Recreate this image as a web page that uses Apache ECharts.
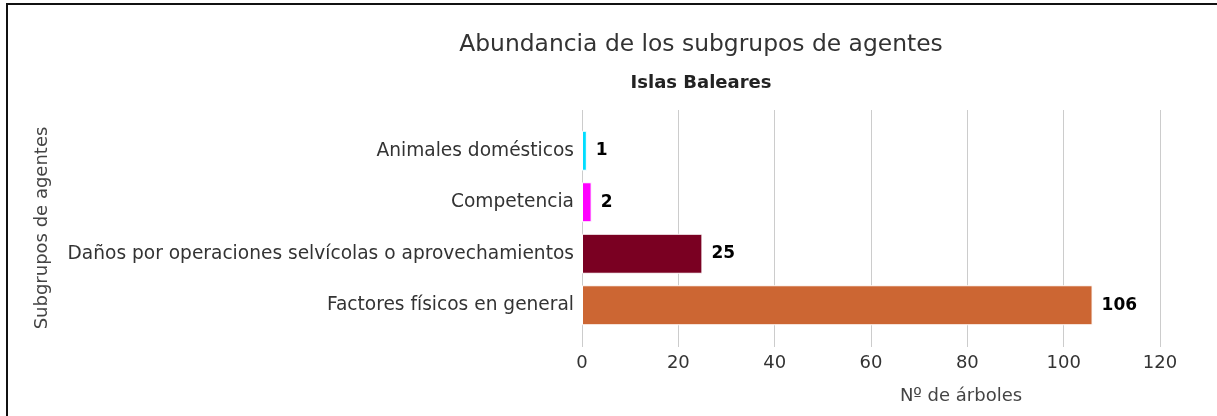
<!DOCTYPE html>
<html>
<head>
<meta charset="utf-8">
<script src="https://cdn.jsdelivr.net/npm/echarts@6/dist/echarts.min.js"></script>
<style>
  html, body { margin: 0; padding: 0; background: #fff; }
  #chart { width: 1217px; height: 416px; }
</style>
</head>
<body>
<div id="chart"></div>
<script>
// datos del gráfico
var categorias = [
  "Animales domésticos",
  "Competencia",
  "Daños por operaciones selvícolas o aprovechamientos",
  "Factores físicos en general"
];
var valores = [1, 2, 25, 106];
var colores = ["#00DDFF", "#FF00FF", "#7A0022", "#CC6633"];

var fuente = "DejaVu Sans";

var myChart = echarts.init(document.getElementById("chart"));
myChart.setOption({
  backgroundColor: "#fff",
  textStyle: { fontFamily: fuente },
  title: [
    {
      text: "Abundancia de los subgrupos de agentes",
      left: 696,
      top: 28,
      textAlign: "center",
      textStyle: { fontFamily: fuente, fontSize: 23.4, fontWeight: "normal", color: "#333" }
    },
    {
      text: "Islas Baleares",
      left: 696,
      top: 69,
      textAlign: "center",
      textStyle: { fontFamily: fuente, fontSize: 18, fontWeight: "bold", color: "#222" }
    }
  ],
  graphic: [
    // borde superior e izquierdo
    { type: "line", shape: { x1: 6, y1: 4, x2: 1217, y2: 4 }, style: { stroke: "#111", lineWidth: 2 } },
    { type: "line", shape: { x1: 7, y1: 4, x2: 7, y2: 416 }, style: { stroke: "#111", lineWidth: 2 } }
  ],
  grid: [
    { left: 582, right: 57, top: 110, bottom: 69 }, // rejilla
    { left: 582, right: 57, top: 125, bottom: 85 }  // barras
  ],
  xAxis: [
    {
      gridIndex: 0,
      type: "value",
      min: 0,
      max: 120,
      interval: 20,
      axisLine: { show: false },
      axisTick: { show: false },
      splitLine: { lineStyle: { color: "#cccccc", width: 1 } },
      axisLabel: { fontFamily: fuente, fontSize: 18, color: "#333", margin: 7 },
      name: "Nº de árboles",
      nameLocation: "middle",
      nameGap: 40,
      nameTextStyle: { fontFamily: fuente, fontSize: 18, color: "#444", padding: [0, 0, 0, 180] }
    },
    {
      gridIndex: 1,
      type: "value",
      min: 0,
      max: 120,
      show: false
    }
  ],
  yAxis: [
    { gridIndex: 0, type: "value", show: false },
    {
      gridIndex: 1,
      type: "category",
      inverse: true,
      data: categorias,
      axisLine: { show: false },
      axisTick: { show: false },
      axisLabel: { fontFamily: fuente, fontSize: 18.6, color: "#333", margin: 8 },
      name: "Subgrupos de agentes",
      nameLocation: "middle",
      nameGap: 531,
      nameRotate: 90,
      nameTextStyle: { fontFamily: fuente, fontSize: 18, color: "#444" }
    }
  ],
  series: [
    {
      name: "Nº de árboles",
      type: "bar",
      xAxisIndex: 1,
      yAxisIndex: 1,
      barWidth: 40,
      data: valores.map(function (v, i) {
        return { value: v, itemStyle: { color: colores[i], borderColor: "#fff", borderWidth: 1 } };
      }),
      label: {
        show: true,
        position: "right",
        distance: 9,
        fontFamily: fuente,
        fontSize: 17,
        fontWeight: "bold",
        color: "#000"
      }
    }
  ]
});
</script>
</body>
</html>
